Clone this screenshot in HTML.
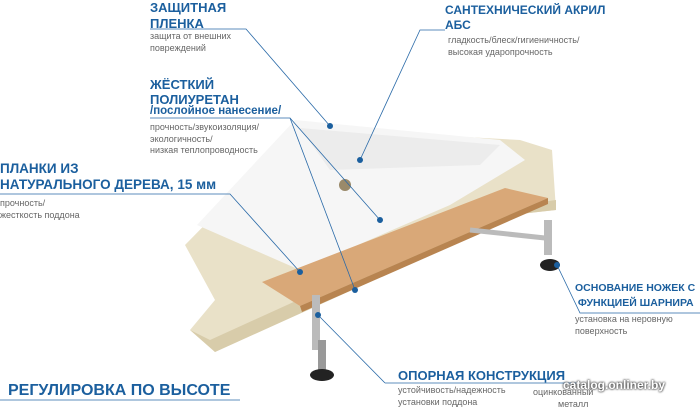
<!DOCTYPE html>
<html><head><meta charset="utf-8"><style>
body{margin:0;width:700px;height:409px;background:#fff;position:relative;overflow:hidden;font-family:"Liberation Sans",sans-serif}
.t{position:absolute;color:#1b5f9e;font-weight:bold;font-size:13px;line-height:16px;white-space:nowrap}
.s{position:absolute;color:#666;font-size:9px;line-height:11.5px;white-space:nowrap}
</style></head><body>
<svg width="700" height="409" style="position:absolute;left:0;top:0">
<polygon points="185,245 300,128 520,140 552,150 556,210 520,214 330,300 215,352 190,330 215,300" fill="#e9e1c8"/>
<polygon points="190,330 215,352 330,300 520,214 556,210 556,200 520,205 320,290 210,340" fill="#d8ccaa"/>
<polygon points="197,225 295,120 500,140 525,160 450,205 300,270" fill="#f6f6f6"/>
<polygon points="300,128 330,170 480,165 500,145" fill="#ececec"/>
<circle cx="345" cy="185" r="6" fill="#9a8a6a"/>
<polygon points="262,282 505,188 548,198 300,306" fill="#d9a878"/>
<polygon points="300,306 548,198 548,204 302,312" fill="#b88450"/>
<rect x="312" y="295" width="8" height="55" fill="#bbb"/>
<rect x="318" y="340" width="8" height="30" fill="#999"/>
<ellipse cx="322" cy="375" rx="12" ry="6" fill="#222"/>
<rect x="544" y="220" width="8" height="35" fill="#bbb"/>
<ellipse cx="550" cy="265" rx="10" ry="6" fill="#222"/>
<line x1="470" y1="230" x2="545" y2="238" stroke="#bbb" stroke-width="5"/>
<g stroke="#2a6aa8" stroke-width="0.8" fill="none">
<polyline points="150,29 246,29 330,126"/>
<polyline points="150,118 290,118 380,220"/>
<polyline points="290,118 355,290"/>
<polyline points="0,194 230,194 300,272"/>
<polyline points="445,30 420,30 360,160"/>
<polyline points="700,313 580,313 557,265"/>
<polyline points="385,383 580,383"/>
<polyline points="385,383 318,315"/>
<polyline points="0,400 240,400"/>
</g>
<g fill="#1b5f9e"><circle cx="330" cy="126" r="3"/><circle cx="380" cy="220" r="3"/><circle cx="355" cy="290" r="3"/><circle cx="300" cy="272" r="3"/><circle cx="360" cy="160" r="3"/><circle cx="557" cy="265" r="3"/><circle cx="318" cy="315" r="3"/></g>
</svg>
<div class="t" style="left:150px;top:0px">ЗАЩИТНАЯ<br>ПЛЕНКА</div>
<div class="s" style="left:150px;top:31px">защита от внешних<br>повреждений</div>
<div class="t" style="left:150px;top:77px;line-height:15px">ЖЁСТКИЙ<br>ПОЛИУРЕТАН</div>
<div class="t" style="left:150px;top:105px;font-size:11.5px;line-height:13px">/послойное нанесение/</div>
<div class="s" style="left:150px;top:122px">прочность/звукоизоляция/<br>экологичность/<br>низкая теплопроводность</div>
<div class="t" style="left:0px;top:161px;font-size:13.5px">ПЛАНКИ ИЗ<br>НАТУРАЛЬНОГО ДЕРЕВА, 15 мм</div>
<div class="s" style="left:0px;top:198px">прочность/<br>жесткость поддона</div>
<div class="t" style="left:445px;top:3px;font-size:12px;line-height:15px">САНТЕХНИЧЕСКИЙ АКРИЛ<br>АБС</div>
<div class="s" style="left:448px;top:35px">гладкость/блеск/гигиеничность/<br>высокая ударопрочность</div>
<div class="t" style="left:575px;top:281px;font-size:10.5px;line-height:15px">ОСНОВАНИЕ НОЖЕК С<br>&nbsp;ФУНКЦИЕЙ ШАРНИРА</div>
<div class="s" style="left:575px;top:314px">установка на неровную<br>поверхность</div>
<div class="t" style="left:398px;top:368px;font-size:13px">ОПОРНАЯ КОНСТРУКЦИЯ</div>
<div class="s" style="left:398px;top:385px">устойчивость/надежность<br>установки поддона</div>
<div class="s" style="left:533px;top:387px">оцинкованный<br>&nbsp;&nbsp;&nbsp;&nbsp;&nbsp;&nbsp;&nbsp;&nbsp;&nbsp;&nbsp;металл</div>
<div class="t" style="left:563px;top:377px;color:#fff;font-size:12px;text-shadow:0 0 2px #333,0 0 2px #333">catalog.onliner.by</div>
<div class="t" style="left:8px;top:382px;font-size:16px;line-height:18px">РЕГУЛИРОВКА ПО ВЫСОТЕ</div>
</body></html>
